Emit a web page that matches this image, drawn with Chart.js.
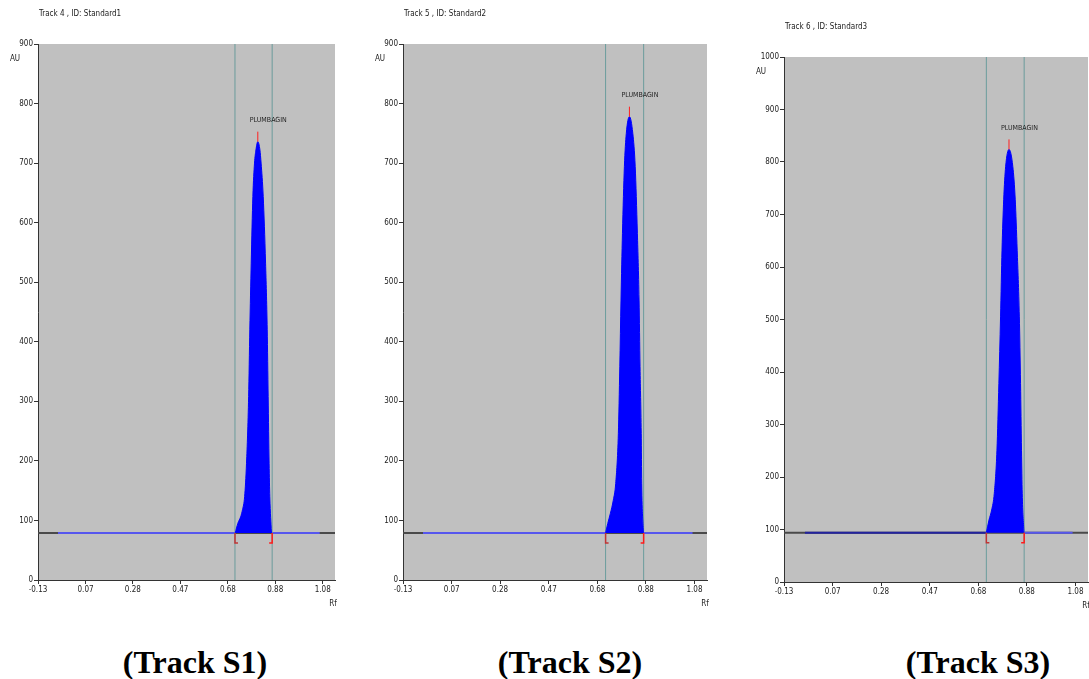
<!DOCTYPE html>
<html>
<head>
<meta charset="utf-8">
<script src="https://cdn.jsdelivr.net/npm/chart.js@4.4.0/dist/chart.umd.min.js"></script>
<style>
  body { margin: 0; background: #fff; }
  #wrap { position: relative; width: 1089px; height: 679px; overflow: hidden; }
  canvas { position: absolute; top: 0; }
  .cap { position: absolute; top: 646px; width: 300px; text-align: center;
         font: bold 32px 'Liberation Serif', 'Times New Roman', serif; line-height: 32px; color: #000; }
</style>
</head>
<body>
<div id="wrap">
  <canvas id="c1" width="350" height="615" style="left:0"></canvas>
  <canvas id="c2" width="357" height="615" style="left:365px"></canvas>
  <canvas id="c3" width="343" height="617" style="left:746px"></canvas>
  <div class="cap" style="left:45px">(Track S1)</div>
  <div class="cap" style="left:420px">(Track S2)</div>
  <div class="cap" style="left:828px">(Track S3)</div>
</div>
<script>
// x axis (Rf) ticks
const xTickValues = [-0.13, 0.072, 0.273, 0.475, 0.677, 0.878, 1.08];
const xTickLabels = ['-0.13', '0.07', '0.28', '0.47', '0.68', '0.88', '1.08'];
const xMin = -0.13, xMax = 1.132;

const trackTitles = ['Track 4 , ID: Standard1', 'Track 5 , ID: Standard2', 'Track 6 , ID: Standard3'];
const peakName = 'PLUMBAGIN';

// peak traces (Rf, AU)
const s1Rf = [0.708, 0.719, 0.731, 0.739, 0.748, 0.756, 0.765, 0.770, 0.776, 0.783, 0.790, 0.796, 0.804, 0.813, 0.818, 0.827, 0.837, 0.844, 0.848, 0.852, 0.855, 0.862];
const s1Au = [79, 95, 106, 118, 140, 196, 308, 420, 532, 644, 700, 722, 736, 722, 700, 644, 532, 420, 308, 196, 140, 79];

const s2Rf = [0.711, 0.720, 0.731, 0.743, 0.753, 0.764, 0.770, 0.775, 0.781, 0.789, 0.797, 0.810, 0.824, 0.834, 0.843, 0.850, 0.854, 0.859, 0.861, 0.868];
const s2Au = [79, 95, 112, 134, 162, 246, 358, 470, 582, 694, 750, 778, 750, 694, 582, 470, 358, 246, 162, 79];

const s3Rf = [0.710, 0.721, 0.732, 0.743, 0.754, 0.762, 0.769, 0.775, 0.782, 0.790, 0.804, 0.820, 0.830, 0.838, 0.847, 0.852, 0.856, 0.859, 0.866];
const s3Au = [94, 118, 137, 169, 251, 378, 505, 632, 728, 791, 824, 791, 728, 632, 505, 378, 251, 169, 94];

const baselineAu = [79, 79, 94];
const peakStart = [0.707, 0.711, 0.710];
const peakEnd = [0.865, 0.869, 0.867];
const traceStart = [-0.045, -0.047, -0.043];
const traceEnd = [1.067, 1.072, 1.068];
const yMax = [900, 900, 1000];

const narrow = "'DejaVu Sans', sans-serif";
const smallFont = "condensed 8px " + narrow;
const traceLeft = ['#5656ee', '#5656ee', '#22229e'];

function makeDeco(i, rf, au) {
  return {
    id: 'deco' + i,
    beforeDraw(chart) {
      const { ctx, chartArea: a } = chart;
      ctx.save();
      ctx.fillStyle = '#c0c0c0';
      ctx.fillRect(a.left, a.top, a.right - a.left, a.bottom - a.top);
      ctx.restore();
    },
    afterDatasetsDraw(chart) {
      const { ctx, scales: { x, y } } = chart;
      ctx.save();
      // apex marker + peak name
      let k = au.indexOf(Math.max(...au));
      const px = x.getPixelForValue(rf[k]), py = y.getPixelForValue(au[k]);
      ctx.strokeStyle = '#ff2020';
      ctx.lineWidth = 1;
      ctx.beginPath(); ctx.moveTo(px, py); ctx.lineTo(px, py - 10); ctx.stroke();
      ctx.fillStyle = '#222';
      ctx.font = "condensed 7px " + narrow;
      ctx.textAlign = 'left';
      ctx.textBaseline = 'middle';
      ctx.fillText(peakName, px - 8, py - 21);
      // integration start / end marks
      const yb = y.getPixelForValue(baselineAu[i]);
      const xs = x.getPixelForValue(peakStart[i]), xe = x.getPixelForValue(peakEnd[i]);
      ctx.lineWidth = 1.5;
      ctx.strokeStyle = '#c03535';
      ctx.beginPath(); ctx.moveTo(xs, yb); ctx.lineTo(xs, yb + 10); ctx.lineTo(xs + 3, yb + 10); ctx.stroke();
      ctx.strokeStyle = '#ff1a1a';
      ctx.beginPath(); ctx.moveTo(xe, yb); ctx.lineTo(xe, yb + 10); ctx.lineTo(xe - 3, yb + 10); ctx.stroke();
      ctx.restore();
    },
    afterDraw(chart) {
      const { ctx, chartArea: a } = chart;
      ctx.save();
      ctx.fillStyle = '#222';
      ctx.font = smallFont;
      ctx.textBaseline = 'middle';
      ctx.textAlign = 'left';
      ctx.fillText(trackTitles[i], a.left + 1, a.top - 30);
      ctx.textAlign = 'center';
      ctx.fillText('AU', a.left - 23, a.top + 15);
      ctx.fillText('Rf', a.right - 2, a.bottom + 24);
      ctx.restore();
    }
  };
}

function makeChart(id, i, rf, au, padTop, padRight) {
  const base = baselineAu[i];
  const tick = { font: { family: narrow, size: 8, weight: 'condensed' }, color: '#222', padding: 1 };
  return new Chart(document.getElementById(id), {
    type: 'line',
    data: {
      datasets: [
        {
          data: rf.map((v, j) => ({ x: v, y: au[j] })),
          borderColor: '#0000ff', backgroundColor: '#0000ff', borderWidth: 1,
          fill: { value: base }, cubicInterpolationMode: 'monotone', pointRadius: 0, order: 1
        },
        {
          data: [{ x: peakStart[i], y: 0 }, { x: peakStart[i], y: yMax[i] }],
          borderColor: '#6b9c9c', borderWidth: 1, pointRadius: 0, order: 2
        },
        {
          data: [{ x: peakEnd[i], y: 0 }, { x: peakEnd[i], y: yMax[i] }],
          borderColor: '#6b9c9c', borderWidth: 1, pointRadius: 0, order: 2
        },
        {
          data: [{ x: traceStart[i], y: base }, { x: peakStart[i], y: base }],
          borderColor: traceLeft[i], borderWidth: 2, pointRadius: 0, order: 3
        },
        {
          data: [{ x: peakEnd[i], y: base }, { x: traceEnd[i], y: base }],
          borderColor: '#5656ee', borderWidth: 2, pointRadius: 0, order: 3
        },
        {
          data: [{ x: xMin, y: base }, { x: xMax, y: base }],
          borderColor: '#4a4a4a', borderWidth: 2, pointRadius: 0, order: 4
        }
      ]
    },
    options: {
      responsive: false,
      animation: false,
      layout: { padding: { left: 0, top: padTop, right: padRight, bottom: 0 } },
      plugins: { legend: { display: false }, tooltip: { enabled: false } },
      scales: {
        x: {
          type: 'linear', min: xMin, max: xMax,
          afterBuildTicks: s => { s.ticks = xTickValues.map(v => ({ value: v })); },
          afterFit: s => { s.height = 35; },
          ticks: Object.assign({}, tick, { autoSkip: false, maxRotation: 0,
            callback: (v, idx) => xTickLabels[idx] }),
          grid: { drawOnChartArea: false, tickLength: 4, color: '#333' },
          border: { color: '#333', width: 1 }
        },
        y: {
          min: 0, max: yMax[i],
          afterFit: s => { s.width = 38; },
          ticks: Object.assign({}, tick, { stepSize: 100, callback: v => String(v) }),
          grid: { drawOnChartArea: false, tickLength: 4, color: '#333' },
          border: { color: '#333', width: 1 }
        }
      }
    },
    plugins: [makeDeco(i, rf, au)]
  });
}

makeChart('c1', 0, s1Rf, s1Au, 44, 15);
makeChart('c2', 1, s2Rf, s2Au, 44, 15);
makeChart('c3', 2, s3Rf, s3Au, 57, 1);
</script>
</body>
</html>
